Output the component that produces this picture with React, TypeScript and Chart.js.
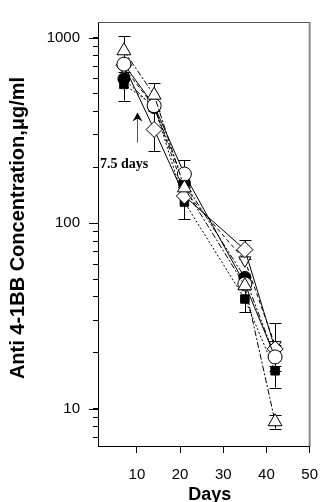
import React, { useEffect, useRef } from 'react';
import { Chart, registerables } from 'chart.js';
Chart.register(...registerables);

const days = [7, 14, 21, 35, 42];

const filledSquare = [560, 430, 130, 39, 16];
const openCircle = [720, 430, 184, 47, 19];
const openTriangle = [850, 490, 155, 46, 8.5];
const openDiamond = [710, 320, 140, 72, 21];
const invTriangle = [690, 425, 150, 63, 22];
const filledCircle = [600, 420, 165, 51, 19];

const filledSquareErr = [[458, 650], null, [105, 160], [33, 46], [13, 19]];
const openCircleErr = [null, null, [160, 218], null, [16, 22]];
const openTriangleErr = [[700, 1025], [420, 570], null, null, [7.8, 9.2]];
const openDiamondErr = [null, [245, 400], null, [64, 81], [17, 29]];
const invTriangleErr = [null, null, null, null, null];
const filledCircleErr = [null, null, null, null, null];

const xTickValues = [10, 20, 30, 40, 50];
const yMajorValues = [10, 100, 1000];
const yTitle = 'Anti 4-1BB Concentration,\u03bcg/ml';
const xTitle = 'Days';
const arrowLabel = '7.5 days';
const arrowDay = 10;
const arrowFrom = 272;
const arrowTo = 395;

const FONT = '"Liberation Sans", Arial, sans-serif';

export default function App() {
  const ref = useRef<HTMLCanvasElement>(null);
  useEffect(() => {
    document.body.style.margin = '0';
    const canvas = ref.current;
    if (!canvas) return;

    const series = [
      { data: filledSquare, err: filledSquareErr, style: 'rect', fill: '#000', dash: [2, 2], rot: 0, r: 6, order: 4 },
      { data: openCircle, err: openCircleErr, style: 'circle', fill: '#fff', dash: [], rot: 0, r: 7, order: 1 },
      { data: openTriangle, err: openTriangleErr, style: 'triangle', fill: '#fff', dash: [6, 2, 2, 2], rot: 0, r: 8, order: 0 },
      { data: openDiamond, err: openDiamondErr, style: 'rectRot', fill: '#fff', dash: [], rot: 0, r: 8, order: 2 },
      { data: invTriangle, err: invTriangleErr, style: 'triangle', fill: '#fff', dash: [4, 3], rot: 180, r: 7, order: 3 },
      { data: filledCircle, err: filledCircleErr, style: 'circle', fill: '#000', dash: [6, 2, 2, 2, 2, 2], rot: 0, r: 6, order: 5 },
    ];

    const yTickList: number[] = [];
    for (let d = 1; d <= 100; d *= 10) {
      for (let m = 1; m <= 9; m++) {
        const v = m * d;
        if (v >= 7 && v <= 1000) yTickList.push(v);
      }
    }
    yTickList.push(1000);
    const yTickSet = Array.from(new Set(yTickList));

    const decor = {
      id: 'decor',
      beforeDatasetsDraw(chart: any) {
        const ctx = chart.ctx;
        const xs = chart.scales.x;
        const ys = chart.scales.y;
        ctx.save();
        ctx.strokeStyle = '#000';
        ctx.lineWidth = 1;
        series.forEach((s) => {
          s.err.forEach((e: any, j: number) => {
            if (!e) return;
            const x = Math.round(xs.getPixelForValue(days[j])) + 0.5;
            const y1 = ys.getPixelForValue(e[0]);
            const y2 = ys.getPixelForValue(e[1]);
            ctx.beginPath();
            ctx.moveTo(x, y1);
            ctx.lineTo(x, y2);
            ctx.moveTo(x - 6, Math.round(y1) + 0.5);
            ctx.lineTo(x + 6, Math.round(y1) + 0.5);
            ctx.moveTo(x - 6, Math.round(y2) + 0.5);
            ctx.lineTo(x + 6, Math.round(y2) + 0.5);
            ctx.stroke();
          });
        });
        ctx.restore();
      },
      afterDraw(chart: any) {
        const ctx = chart.ctx;
        const xs = chart.scales.x;
        const ys = chart.scales.y;
        const a = chart.chartArea;
        ctx.save();
        ctx.strokeStyle = '#555';
        ctx.lineWidth = 1;
        ctx.beginPath();
        ctx.moveTo(a.left, Math.round(a.top) + 0.5);
        ctx.lineTo(a.right, Math.round(a.top) + 0.5);
        ctx.stroke();
        ctx.strokeStyle = '#888';
        ctx.lineWidth = 2;
        ctx.beginPath();
        ctx.moveTo(a.right, a.top);
        ctx.lineTo(a.right, a.bottom);
        ctx.stroke();
        ctx.strokeStyle = '#000';
        ctx.lineWidth = 1;
        yMajorValues.forEach((v) => {
          const y = Math.round(ys.getPixelForValue(v)) + 0.5;
          ctx.beginPath();
          ctx.moveTo(a.left - 9, y);
          ctx.lineTo(a.left, y);
          ctx.stroke();
        });
        const ax = Math.round(xs.getPixelForValue(arrowDay)) + 0.5;
        const ay1 = ys.getPixelForValue(arrowFrom);
        const ay2 = ys.getPixelForValue(arrowTo);
        ctx.strokeStyle = '#555';
        ctx.beginPath();
        ctx.moveTo(ax, ay1);
        ctx.lineTo(ax, ay2 + 4);
        ctx.stroke();
        ctx.fillStyle = '#000';
        ctx.beginPath();
        ctx.moveTo(ax, ay2);
        ctx.lineTo(ax - 5, ay2 + 9);
        ctx.lineTo(ax, ay2 + 6);
        ctx.lineTo(ax + 5, ay2 + 9);
        ctx.closePath();
        ctx.fill();
        ctx.font = 'bold 14px "Liberation Serif", "Times New Roman", serif';
        ctx.textAlign = 'left';
        ctx.textBaseline = 'alphabetic';
        ctx.fillText(arrowLabel, a.left + 2, ay1 + 25);
        ctx.font = 'bold 18px ' + FONT;
        ctx.textAlign = 'center';
        ctx.fillText(xTitle, (a.left + a.right) / 2 + 6, 500);
        ctx.save();
        ctx.translate(24, (a.top + a.bottom) / 2 - 6);
        ctx.rotate(-Math.PI / 2);
        ctx.font = 'bold 20px ' + FONT;
        ctx.fillText(yTitle, 0, 0);
        ctx.restore();
        ctx.restore();
      },
    };

    const chart = new Chart(canvas, {
      type: 'line',
      data: {
        datasets: series.map((s) => ({
          data: days.map((d, j) => ({ x: d, y: s.data[j] })),
          borderColor: '#000',
          borderWidth: 1,
          borderDash: s.dash,
          pointStyle: s.style as any,
          pointRotation: s.rot,
          pointRadius: s.r,
          pointBackgroundColor: s.fill,
          pointBorderColor: '#000',
          pointBorderWidth: 1,
          tension: 0,
          fill: false,
          order: s.order,
        })),
      },
      options: {
        responsive: false,
        animation: false,
        events: [],
        layout: { padding: { top: 14, right: 9, left: 0, bottom: 0 } },
        plugins: { legend: { display: false }, tooltip: { enabled: false } },
        scales: {
          x: {
            type: 'linear',
            min: 1,
            max: 50,
            afterBuildTicks: (scale: any) => {
              scale.ticks = xTickValues.map((v) => ({ value: v }));
            },
            afterFit: (scale: any) => {
              scale.height = 56;
            },
            ticks: {
              color: '#000',
              font: { family: FONT, size: 15 },
              padding: 13,
              maxRotation: 0,
              autoSkip: false,
            },
            grid: { drawOnChartArea: false, drawTicks: true, tickLength: 7, color: '#000' },
            border: { display: true, color: '#000', width: 1 },
          },
          y: {
            type: 'logarithmic',
            min: 6.29,
            max: 1215,
            afterBuildTicks: (scale: any) => {
              scale.ticks = yTickSet.map((v) => ({ value: v, major: yMajorValues.includes(v) }));
            },
            afterFit: (scale: any) => {
              scale.width = 98;
            },
            ticks: {
              color: '#000',
              font: { family: FONT, size: 15 },
              padding: 13,
              autoSkip: false,
              callback: (v: any) => (yMajorValues.includes(Number(v)) ? String(v) : ''),
            },
            grid: { drawOnChartArea: false, drawTicks: true, tickLength: 5, color: '#000' },
            border: { display: true, color: '#000', width: 1 },
          },
        },
      },
      plugins: [decor],
    });
    return () => chart.destroy();
  }, []);

  return (
    <div style={{ width: 331, height: 502 }}>
      <canvas ref={ref} width={331} height={502} style={{ width: 331, height: 502, display: 'block' }} />
    </div>
  );
}
